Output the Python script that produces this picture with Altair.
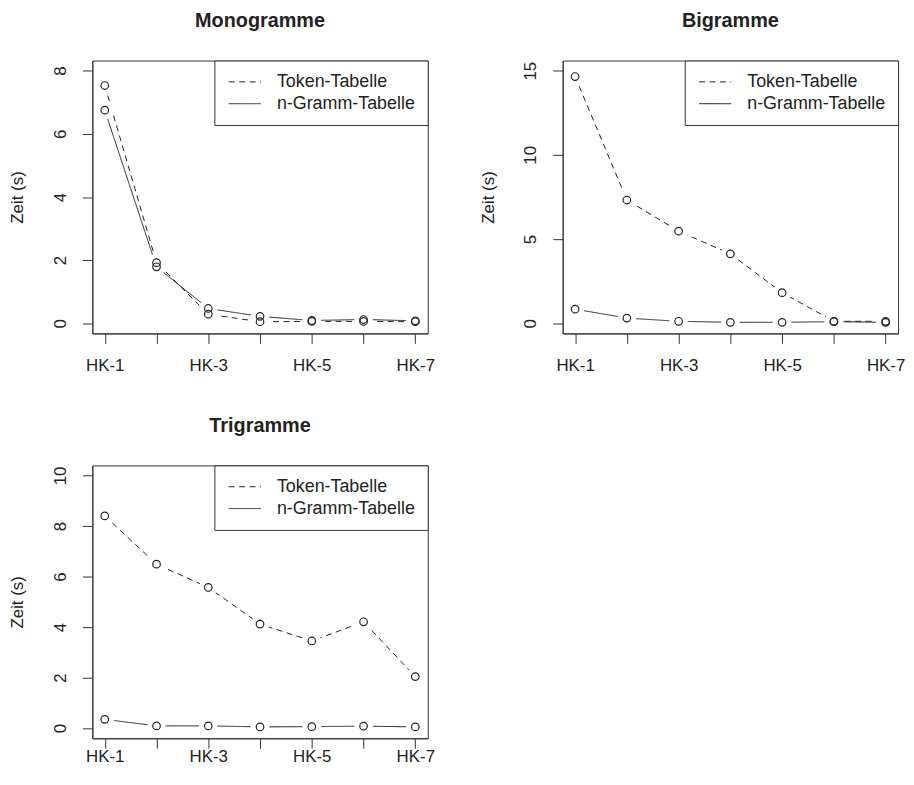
import altair as alt
import pandas as pd

# ---- data ----
hk_labels = ["HK-1", "HK-2", "HK-3", "HK-4", "HK-5", "HK-6", "HK-7"]
shown_labels = ["HK-1", "", "HK-3", "", "HK-5", "", "HK-7"]
series_names = ["Token-Tabelle", "n-Gramm-Tabelle"]

mono_token = [7.53, 1.92, 0.29, 0.05, 0.06, 0.06, 0.05]
mono_ngram = [6.75, 1.79, 0.47, 0.22, 0.09, 0.12, 0.08]
bi_token = [14.65, 7.32, 5.47, 4.12, 1.82, 0.12, 0.12]
bi_ngram = [0.84, 0.31, 0.12, 0.06, 0.06, 0.10, 0.06]
tri_token = [8.40, 6.49, 5.57, 4.12, 3.45, 4.21, 2.04]
tri_ngram = [0.35, 0.09, 0.09, 0.05, 0.06, 0.08, 0.05]

titles = ["Monogramme", "Bigramme", "Trigramme"]
y_title = "Zeit (s)"
y_limits = [8, 15, 10]
y_ticks = [[0, 2, 4, 6, 8], [0, 5, 10, 15], [0, 2, 4, 6, 8, 10]]

FONT = "Liberation Sans"
INK = "#222222"
BOX = "#333333"
W, H = 338, 275

label_js = "[" + ",".join("'%s'" % s for s in shown_labels) + "]"


def make_panel(title, token, ngram, ylim, ticks, xlab_pad):
    rows = []
    for i, lab in enumerate(hk_labels):
        rows.append({"x": i + 1, "hk": lab, "series": series_names[0], "value": token[i]})
        rows.append({"x": i + 1, "hk": lab, "series": series_names[1], "value": ngram[i]})
    df = pd.DataFrame(rows)
    n = len(hk_labels)
    xpad = 0.04 * (n - 1)
    x_enc = alt.X(
        "x:Q",
        scale=alt.Scale(domain=[1 - xpad, n + xpad], nice=False, zero=False),
        axis=alt.Axis(
            values=list(range(1, n + 1)),
            labelExpr=label_js + "[datum.value - 1]",
            title=None, grid=False, domain=True, domainColor=BOX,
            tickColor=BOX, tickSize=10, labelFontSize=17, labelFont=FONT,
            labelColor=INK, labelPadding=xlab_pad, labelOverlap=False,
            labelFlush=False, zindex=1,
        ),
    )
    y_enc = alt.Y(
        "value:Q",
        scale=alt.Scale(domain=[-0.04 * ylim, 1.04 * ylim], nice=False, zero=False),
        axis=alt.Axis(
            values=ticks, title=y_title, grid=False, domain=True, domainColor=BOX,
            tickColor=BOX, tickSize=10, labelFontSize=17, labelFont=FONT,
            labelColor=INK, labelAngle=270, labelPadding=13, labelOverlap=False,
            labelFlush=False, titleFont=FONT, titleFontSize=17,
            titleFontWeight="normal", titleColor=INK, titlePadding=25, zindex=1,
        ),
    )
    base = alt.Chart(df)
    lines = base.mark_line(color=INK, strokeWidth=1).encode(
        x=x_enc, y=y_enc,
        strokeDash=alt.StrokeDash(
            "series:N",
            scale=alt.Scale(domain=series_names, range=[[6, 4.5], [1, 0]]),
            legend=alt.Legend(
                orient="top-right", offset=0, padding=12, strokeColor=BOX,
                fillColor="white", title=None,
                symbolType="M-0.78,0L2.82,0",
                symbolSize=324, symbolStrokeWidth=1, symbolStrokeColor=INK,
                labelFontSize=18, labelFont=FONT, labelColor=INK,
                labelOffset=32, rowPadding=3,
            ),
        ),
        order="x:Q",
    )
    gaps = base.mark_point(filled=True, color="white", size=350, opacity=1,
                           strokeWidth=0).encode(x=x_enc, y=y_enc)
    pts = base.mark_point(filled=False, color=INK, size=58, strokeWidth=1.2,
                          opacity=1).encode(x=x_enc, y=y_enc)
    return alt.layer(lines, gaps, pts).properties(
        width=W, height=H,
        view=alt.ViewBackground(stroke=BOX, strokeWidth=1, strokeOpacity=1),
        title=alt.TitleParams(
            text=title, font=FONT, fontSize=20, fontWeight="bold", color=INK,
            anchor="middle", frame="group", baseline="alphabetic", offset=13,
        ),
    )


mono = make_panel(titles[0], mono_token, mono_ngram, y_limits[0], y_ticks[0], 14)
bi = make_panel(titles[1], bi_token, bi_ngram, y_limits[1], y_ticks[1], 14)
tri = make_panel(titles[2], tri_token, tri_ngram, y_limits[2], y_ticks[2], 0)

row1 = alt.hconcat(mono, bi, spacing=43).resolve_scale(
    x="independent", y="independent", strokeDash="independent"
).resolve_legend(strokeDash="independent")

chart = alt.vconcat(row1, tri, spacing=42).resolve_scale(
    x="independent", y="independent", strokeDash="independent"
).resolve_legend(strokeDash="independent").properties(
    padding=0
).configure_view(
    stroke=BOX, strokeWidth=1
).configure(
    font=FONT, background="white"
)

chart.save("out.html", embed_options={"renderer": "svg", "actions": False})
